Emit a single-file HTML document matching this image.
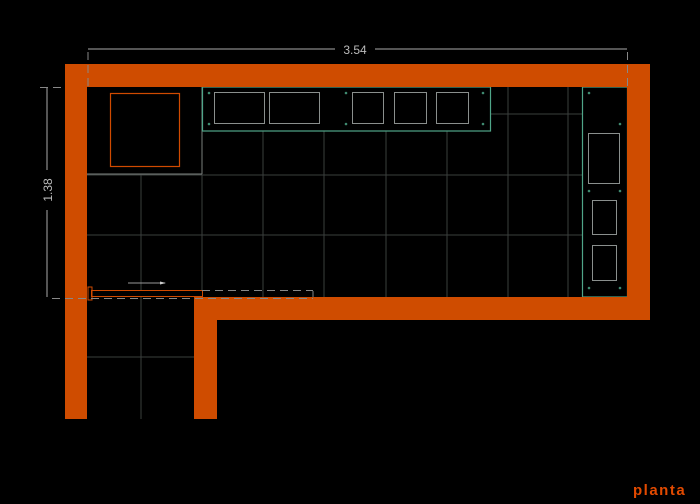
<!DOCTYPE html>
<html><head><meta charset="utf-8"><style>body{margin:0;background:#000}svg{display:block}</style></head><body>
<svg width="700" height="504" xmlns="http://www.w3.org/2000/svg">
<rect width="700" height="504" fill="#000"/>
<g stroke="#3a3f3d" stroke-width="1" fill="none">
<line x1="263" y1="131" x2="263" y2="297"/><line x1="324" y1="131" x2="324" y2="297"/>
<line x1="386" y1="131" x2="386" y2="297"/><line x1="447" y1="131" x2="447" y2="297"/>
<line x1="508" y1="87" x2="508" y2="297"/><line x1="568" y1="87" x2="568" y2="297"/>
<line x1="141" y1="174" x2="141" y2="419"/><line x1="202" y1="131" x2="202" y2="297"/>
<line x1="87" y1="175" x2="582" y2="175"/><line x1="87" y1="235" x2="582" y2="235"/>
<line x1="491" y1="114" x2="582" y2="114"/><line x1="87" y1="357" x2="194" y2="357"/>
</g>
<g stroke="#7a7f7d" fill="none"><line x1="87" y1="174" x2="202" y2="174"/><line x1="202" y1="87" x2="202" y2="174"/></g>
<rect x="202.5" y="87" width="288" height="44" fill="none" stroke="#4fa588" stroke-width="1.2"/>
<rect x="582.5" y="87" width="45" height="210" fill="none" stroke="#4fa588" stroke-width="1.2"/>
<g stroke="#8a8f8d" fill="none">
<rect x="214.5" y="92.5" width="50" height="31"/><rect x="269.5" y="92.5" width="50" height="31"/>
<rect x="352.5" y="92.5" width="31" height="31"/><rect x="394.5" y="92.5" width="32" height="31"/><rect x="436.5" y="92.5" width="32" height="31"/>
<rect x="588.5" y="133.5" width="31" height="50"/><rect x="592.5" y="200.5" width="24" height="34"/><rect x="592.5" y="245.5" width="24" height="35"/>
</g>
<g fill="#3f8a70">
<circle cx="209" cy="93" r="1.3"/><circle cx="209" cy="124" r="1.3"/><circle cx="346" cy="93" r="1.3"/><circle cx="346" cy="124" r="1.3"/>
<circle cx="483" cy="93" r="1.3"/><circle cx="483" cy="124" r="1.3"/>
<circle cx="589" cy="93" r="1.3"/><circle cx="620" cy="124" r="1.3"/><circle cx="589" cy="191" r="1.3"/><circle cx="620" cy="191" r="1.3"/>
<circle cx="589" cy="288" r="1.3"/><circle cx="620" cy="288" r="1.3"/>
</g>
<rect x="110.5" y="93.5" width="69" height="73" fill="none" stroke="#d04a00" stroke-width="1.2"/>
<g fill="#cf4c00">
<rect x="65" y="64" width="585" height="23"/><rect x="65" y="64" width="22" height="355"/>
<rect x="627" y="64" width="23" height="256"/><rect x="194" y="297" width="456" height="23"/>
<rect x="194" y="297" width="23" height="122"/>
</g>
<rect x="91.5" y="290.5" width="111" height="6" fill="#000" stroke="#d04a00"/>
<rect x="88" y="287" width="4" height="13" fill="none" stroke="#d04a00"/>
<g stroke="#888" stroke-dasharray="8,5" fill="none">
<line x1="202" y1="290.5" x2="313" y2="290.5"/><line x1="52" y1="298.5" x2="313" y2="298.5"/>
<line x1="313" y1="291" x2="313" y2="297"/>
<line x1="88" y1="52" x2="88" y2="86"/><line x1="627.5" y1="52" x2="627.5" y2="86"/>
<line x1="40" y1="87.5" x2="64" y2="87.5"/>
</g>
<line x1="128" y1="283" x2="165" y2="283" stroke="#999"/><path d="M160 281.5L166 283L160 284.5Z" fill="#ccc"/>
<g stroke="#aaa"><line x1="88" y1="49" x2="335" y2="49"/><line x1="375" y1="49" x2="627" y2="49"/>
<line x1="47" y1="88" x2="47" y2="170"/><line x1="47" y1="210" x2="47" y2="297"/></g>
<text x="355" y="54" fill="#bbb" font-family="Liberation Sans, sans-serif" font-size="12" text-anchor="middle">3.54</text>
<text x="0" y="0" transform="translate(52,190) rotate(-90)" fill="#bbb" font-family="Liberation Sans, sans-serif" font-size="12" text-anchor="middle">1.38</text>
<text x="633" y="495" fill="#e24a00" font-family="Liberation Sans, sans-serif" font-size="15" font-weight="bold" letter-spacing="1.5">planta</text>
</svg>
</body></html>
